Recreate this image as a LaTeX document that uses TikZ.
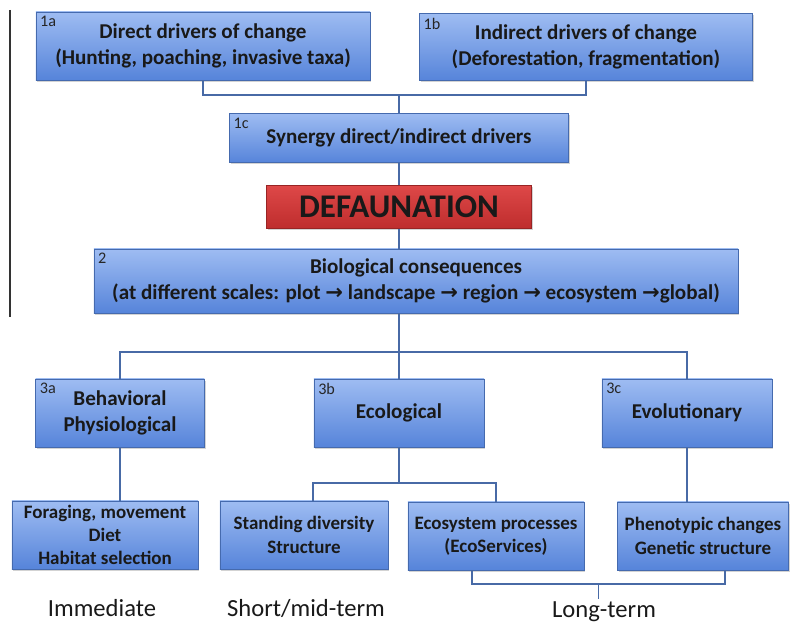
\documentclass[tikz,border=0pt]{standalone}
\usepackage{fontspec}
\setmainfont{Carlito}
\newfontfamily\arrowfont{DejaVu Sans}
\usepackage{tikz}
\usetikzlibrary{positioning,calc,shadows}

\definecolor{boxtop}{RGB}{158,188,242}
\definecolor{boxbot}{RGB}{86,132,218}
\definecolor{redtop}{RGB}{222,72,72}
\definecolor{redbot}{RGB}{190,45,45}
\definecolor{linkblue}{RGB}{72,106,166}

\begin{document}
\begin{tikzpicture}[
  x=0.025cm,y=-0.025cm,
  box/.style={
    draw=boxbot!80!black,
    line width=0.3pt,
    top color=boxtop,
    bottom color=boxbot,
    drop shadow={shadow xshift=1pt,shadow yshift=-1.2pt,opacity=0.35},
    align=center,
    inner sep=1pt,
    font=\fontsize{15}{18.5}\selectfont\bfseries,
    text=black!90
  },
  smallbox/.style={box, font=\fontsize{13.5}{16.5}\selectfont\bfseries},
  redbox/.style={
    draw=redbot!80!black,
    line width=0.3pt,
    top color=redtop,
    bottom color=redbot,
    drop shadow={shadow xshift=1pt,shadow yshift=-1.2pt,opacity=0.35},
    font=\fontsize{23.5}{25}\selectfont\bfseries,
    text=black!90
  },
  tag/.style={anchor=north west, inner sep=3pt, font=\fontsize{11.5}{11.5}\selectfont, text=black!85},
  link/.style={draw=linkblue, line width=1.1pt},
  term/.style={anchor=base, inner sep=0pt, font=\fontsize{17.5}{17.5}\selectfont, text=black!90},
]
\useasboundingbox (0,0) rectangle (790,622);

% left rule
\draw[black!80, line width=0.8pt] (10,10) -- (10,317);

% Drivers
\node[box, minimum width=8.35cm, minimum height=1.7cm,
  label={[tag]north west:1a}] (a1) at (203,46)
  {Direct drivers of change\\(Hunting, poaching, invasive taxa)};
\node[box, minimum width=8.33cm, minimum height=1.67cm,
  label={[tag]north west:1b}] (b1) at (586,47)
  {Indirect drivers of change\\(Deforestation, fragmentation)};
\node[box, minimum width=8.48cm, minimum height=1.23cm,
  label={[tag]north west:1c}] (c1) at (399,138)
  {Synergy direct/indirect drivers};

% Defaunation
\node[redbox, minimum width=6.63cm, minimum height=1.08cm] (def) at (399,207)
  {DEFAUNATION};

% Consequences
\node[box, minimum width=16.1cm, minimum height=1.6cm,
  label={[tag]north west:2}] (bio) at (416,281)
  {Biological consequences\\(at different scales: plot {\arrowfont →} landscape {\arrowfont →} region {\arrowfont →} ecosystem {\arrowfont →}global)};

% Three kinds of consequences
\node[box, minimum width=4.22cm, minimum height=1.7cm,
  label={[tag]north west:3a}] (a3) at (120,413)
  {Behavioral\\Physiological};
\node[box, minimum width=4.25cm, minimum height=1.7cm,
  label={[tag]north west:3b}] (b3) at (399,413)
  {Ecological};
\node[box, minimum width=4.25cm, minimum height=1.7cm,
  label={[tag]north west:3c}] (c3) at (687,413)
  {Evolutionary};

% Outcomes
\node[smallbox, minimum width=4.65cm, minimum height=1.7cm] (forage) at (105,535)
  {Foraging, movement\\Diet\\Habitat selection};
\node[smallbox, minimum width=4.2cm, minimum height=1.7cm] (stand) at (304,535)
  {Standing diversity\\Structure};
\node[smallbox, minimum width=4.4cm, minimum height=1.7cm] (eco) at (496,536)
  {Ecosystem processes\\(EcoServices)};
\node[smallbox, minimum width=4.28cm, minimum height=1.7cm] (pheno) at (703,536)
  {Phenotypic changes\\Genetic structure};

% Time scales
\node[term] (imm) at (102,616) {Immediate};
\node[term] (mid) at (306,616) {Short/mid-term};

% Connectors
\draw[link] (a1.south) -- ++(0,15) -| (b1.south);
\draw[link] (c1.north) -- ++(0,-19);
\draw[link] (c1.south) -- (def.north);
\draw[link] (def.south) -- (def.south |- bio.north);
\draw[link] (b3.north |- bio.south) -- (b3.north);
\draw[link] (a3.north) -- ++(0,-27) -| (c3.north);
\draw[link] (a3.south) -- (a3.south |- forage.north);
\draw[link] (b3.south) -- ++(0,36) coordinate (bj);
\draw[link] ([xshift=0.23cm]stand.north) |- (bj) -| (eco.north);
\draw[link] (c3.south) -- (c3.south |- pheno.north);

% Long-term bracket
\draw[link] ([xshift=-0.6cm]eco.south) -- ++(0,14) -| ([xshift=0.55cm]pheno.south);
\coordinate (lt) at ($([xshift=-0.6cm]eco.south)!0.5!([xshift=0.55cm]pheno.south)+(0,14)$);
\draw[link] (lt) -- ++(0,15);
\node[term] (long) at (604,617) {Long-term};

\end{tikzpicture}
\end{document}
